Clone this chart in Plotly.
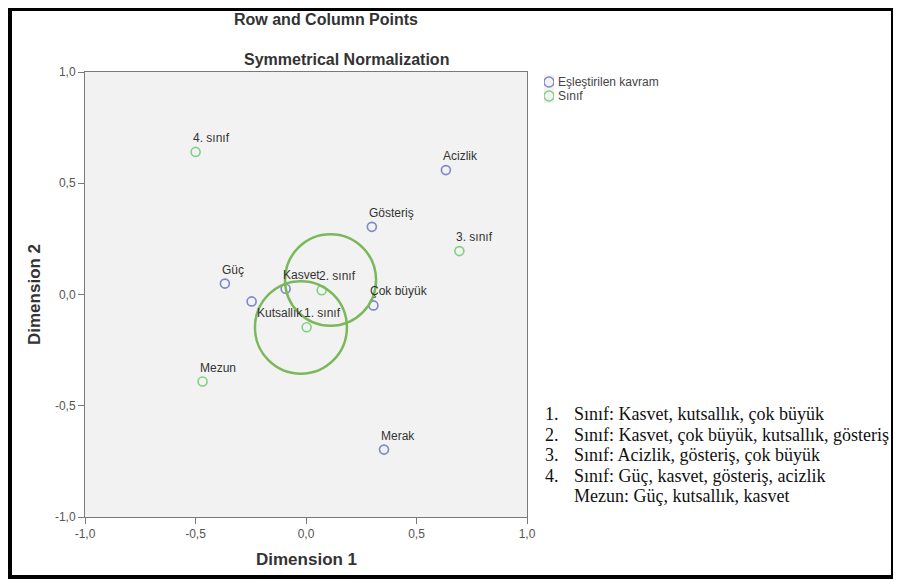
import plotly.graph_objects as go

# ---- data ----
concept_labels = ["Acizlik", "Gösteriş", "Güç", "Kasvet", "Kutsallık", "Çok büyük", "Merak"]
concept_x = [0.633, 0.298, -0.367, -0.092, -0.246, 0.305, 0.353]
concept_y = [0.559, 0.304, 0.049, 0.026, -0.031, -0.049, -0.697]

class_labels = ["4. sınıf", "3. sınıf", "2. sınıf", "1. sınıf", "Mezun"]
class_x = [-0.4995, 0.694, 0.071, 0.003, -0.468]
class_y = [0.641, 0.195, 0.019, -0.147, -0.391]

# hand-drawn grouping circles (center x, center y, radius)
circle_cx = [-0.023, 0.111]
circle_cy = [-0.148, 0.065]
circle_r = [0.208, 0.206]

tick_vals = [-1.0, -0.5, 0.0, 0.5, 1.0]
tick_text = ["-1,0", "-0,5", "0,0", "0,5", "1,0"]

legend_names = ["Eşleştirilen kavram", "Sınıf"]

note_numbers = ["1.", "2.", "3.", "4.", ""]
note_lines = [
    "Sınıf: Kasvet, kutsallık, çok büyük",
    "Sınıf: Kasvet, çok büyük, kutsallık, gösteriş",
    "Sınıf: Acizlik, gösteriş, çok büyük",
    "Sınıf: Güç, kasvet, gösteriş, acizlik",
    "Mezun: Güç, kutsallık, kasvet",
]

BLUE = "#7f87c7"
GREEN = "#84cf84"
CIRCLE = "#7ab85a"
FONT = "Liberation Sans, Arial, sans-serif"
SERIF = "Liberation Serif, Times New Roman, serif"

# page body has an 8px margin: figure origin sits at page (8, 8)
OFF = 8
W, H = 901, 581


def fx(page_x):
    return (page_x - OFF) / W


def fy(page_y):
    return 1 - (page_y - OFF) / H


PL, PR, PT, PB = 85, 527, 72, 517  # plot area in page pixels

fig = go.Figure()
fig.add_trace(go.Scatter(
    x=concept_x, y=concept_y, mode="markers", name=legend_names[0], showlegend=False,
    marker=dict(symbol="circle-open", size=9, color=BLUE, line=dict(width=1.6, color=BLUE)),
    hoverinfo="text", text=concept_labels))
fig.add_trace(go.Scatter(
    x=class_x, y=class_y, mode="markers", name=legend_names[1], showlegend=False,
    marker=dict(symbol="circle-open", size=9, color=GREEN, line=dict(width=1.6, color=GREEN)),
    hoverinfo="text", text=class_labels))

# hand-made legend on its own tiny axes
legend_colors = [BLUE, GREEN]
legend_y = [0.75, 0.25]
for name, col, ly in zip(legend_names, legend_colors, legend_y):
    fig.add_trace(go.Scatter(
        x=[0.5], y=[ly], xaxis="x2", yaxis="y2", mode="markers", name=name, showlegend=False,
        marker=dict(symbol="circle-open", size=10, color=col, line=dict(width=1.4, color=col)),
        hoverinfo="skip"))

annotations = []
for name, ly in zip(legend_names, legend_y):
    annotations.append(dict(x=1.0, y=ly, xref="x2", yref="y2", text=name, showarrow=False,
                            xanchor="left", yanchor="middle", xshift=2,
                            font=dict(family=FONT, size=12, color="#444444")))

label_shift = {"Kutsallık": (3, -12)}
for lab, xv, yv in list(zip(concept_labels, concept_x, concept_y)) + list(zip(class_labels, class_x, class_y)):
    xs, ys = label_shift.get(lab, (-5, 14))
    annotations.append(dict(x=xv, y=yv, xref="x", yref="y", text=lab, showarrow=False,
                            xanchor="left", yanchor="middle", xshift=xs, yshift=ys,
                            font=dict(family=FONT, size=12, color="#333333")))

annotations.append(dict(x=fx(346), y=fy(60), xref="paper", yref="paper", text="<b>Symmetrical Normalization</b>",
                        showarrow=False, xanchor="center", yanchor="middle",
                        font=dict(family=FONT, size=16, color="#333333")))
annotations.append(dict(x=fx(306), y=fy(559), xref="paper", yref="paper", text="<b>Dimension 1</b>",
                        showarrow=False, xanchor="center", yanchor="middle",
                        font=dict(family=FONT, size=17, color="#333333")))
annotations.append(dict(x=fx(35), y=fy(295), xref="paper", yref="paper", text="<b>Dimension 2</b>",
                        showarrow=False, xanchor="center", yanchor="middle", textangle=-90,
                        font=dict(family=FONT, size=17, color="#333333")))

# note block
for i, (num, line) in enumerate(zip(note_numbers, note_lines)):
    yp = 414 + i * 20.5
    if num:
        annotations.append(dict(x=fx(543), y=fy(yp), xref="paper", yref="paper", text=num,
                                showarrow=False, xanchor="left", yanchor="middle",
                                font=dict(family=SERIF, size=18, color="#111111")))
    annotations.append(dict(x=fx(572), y=fy(yp), xref="paper", yref="paper", text=line,
                            showarrow=False, xanchor="left", yanchor="middle",
                            font=dict(family=SERIF, size=18, color="#111111")))

shapes = []
for cx, cy, r in zip(circle_cx, circle_cy, circle_r):
    shapes.append(dict(type="circle", xref="x", yref="y", x0=cx - r, x1=cx + r, y0=cy - r, y1=cy + r,
                       line=dict(color=CIRCLE, width=2.5)))
# outer frame
shapes.append(dict(type="rect", xref="paper", yref="paper", x0=fx(10), x1=fx(893), y0=fy(577), y1=fy(9),
                   line=dict(color="black", width=4), fillcolor="rgba(0,0,0,0)", layer="below"))

axis_common = dict(showgrid=False, zeroline=False, showline=True, linecolor="#7a7a7a", linewidth=1,
                   mirror=True, ticks="outside", ticklen=6, tickcolor="#7a7a7a",
                   tickvals=tick_vals, ticktext=tick_text, range=[-1, 1], automargin=False,
                   tickfont=dict(family=FONT, size=12, color="#555555"))

fig.update_layout(
    width=W, height=H,
    margin=dict(l=0, r=0, t=0, b=0, pad=0, autoexpand=False),
    paper_bgcolor="white", plot_bgcolor="#f2f2f2",
    showlegend=False,
    title=dict(text="<b>Row and Column Points</b>", xref="paper", yref="container",
               x=fx(326), y=fy(19), xanchor="center", yanchor="middle", automargin=False,
               font=dict(family=FONT, size=16, color="#333333")),
    xaxis=dict(domain=[fx(PL), fx(PR)], anchor="y", **axis_common),
    yaxis=dict(domain=[fy(PB), fy(PT)], anchor="x", **axis_common),
    xaxis2=dict(domain=[fx(544), fx(554)], range=[0, 1], visible=False, anchor="y2", fixedrange=True),
    yaxis2=dict(domain=[fy(103), fy(75)], range=[0, 1], visible=False, anchor="x2", fixedrange=True),
    annotations=annotations,
    shapes=shapes,
)

fig.write_html("out.html")
